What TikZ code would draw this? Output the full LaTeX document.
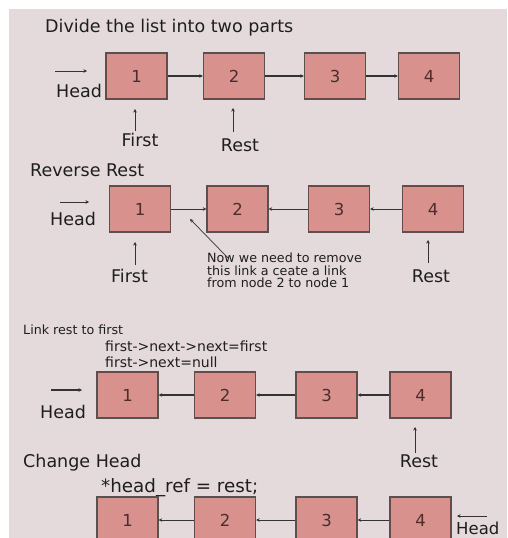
\documentclass[tikz,border=0pt]{standalone}
\usepackage{fontspec}
\setmainfont{DejaVu Sans}
\usetikzlibrary{arrows.meta}
\definecolor{bgc}{HTML}{E4DADB}
\definecolor{boxfill}{HTML}{D8918D}
\definecolor{boxline}{HTML}{5E4E4E}
\definecolor{numc}{HTML}{4A2E2E}
\definecolor{txt}{HTML}{1E1E1E}
\definecolor{lnk}{HTML}{333333}
\tikzset{
  cell/.style={draw=boxline, line width=1.3pt, fill=boxfill, minimum width=61pt, minimum height=46pt, inner sep=0pt, text=numc, font=\fontsize{16.5}{16.5}\selectfont},
  lbl/.style={anchor=base west, inner sep=0pt, text=txt, font=\fontsize{17.5}{17.5}\selectfont},
  lblc/.style={anchor=base, inner sep=0pt, text=txt, font=\fontsize{17.5}{17.5}\selectfont},
  small/.style={anchor=base west, inner sep=0pt, text=txt, font=\fontsize{12.7}{12.7}\selectfont},
  code/.style={anchor=base west, inner sep=0pt, text=txt, font=\fontsize{14}{14}\selectfont},
  bigcode/.style={anchor=base west, inner sep=0pt, text=txt, font=\fontsize{18.3}{18.3}\selectfont},
  lnkarr/.style={draw=lnk, line width=1.1pt, -{Stealth[length=3.5pt,width=3.5pt]}},
  thin/.style={draw=lnk, line width=0.7pt, -{Stealth[length=3.5pt,width=3.5pt]}}
}
\begin{document}
\begin{tikzpicture}[x=1pt,y=-1pt]
\useasboundingbox (0,0) rectangle (507,538);
\clip (0,0) rectangle (507,538);
\fill[white] (0,0) rectangle (507,538);
\fill[bgc] (9,9) rectangle (507,538);

% ---------- Row 1
\node[lbl] (t1) at (45,32) {Divide the list into two parts};
\node[cell] (a1) at (136.5,76) {1};
\node[cell] (a2) at (234,76) {2};
\node[cell] (a3) at (335,76) {3};
\node[cell] (a4) at (429,76) {4};
\draw[lnkarr] (a1) -- (a2);
\draw[lnkarr] (a2) -- (a3);
\draw[lnkarr] (a3) -- (a4);
\coordinate (ah0) at (55,71);
\coordinate (ah1) at (87,71);
\draw[thin] (ah0) -- (ah1);
\node[lbl] (ahead) at (56,97) {Head};
\coordinate (af0) at (135,131);
\coordinate (af1) at (135,109);
\draw[thin] (af0) -- (af1);
\node[lblc] (afirst) at (140,146) {First};
\coordinate (ar0) at (233,132);
\coordinate (ar1) at (233,108);
\draw[thin] (ar0) -- (ar1);
\node[lblc] (arest) at (240,151) {Rest};

% ---------- Row 2
\node[lbl] (t2) at (30,176) {Reverse Rest};
\node[cell] (b1) at (140,209) {1};
\node[cell] (b2) at (237.5,209) {2};
\node[cell] (b3) at (339,209) {3};
\node[cell] (b4) at (433,209) {4};
\draw[thin] (b1) -- (b2);
\draw[thin] (b3) -- (b2);
\draw[thin] (b4) -- (b3);
\coordinate (bh0) at (60,202);
\coordinate (bh1) at (89,202);
\draw[thin] (bh0) -- (bh1);
\node[lbl] (bhead) at (50,225) {Head};
\coordinate (bf0) at (135,265);
\coordinate (bf1) at (135,242);
\draw[thin] (bf0) -- (bf1);
\node[lblc] (bfirst) at (129.5,282) {First};
\coordinate (br0) at (428,263);
\coordinate (br1) at (428,240);
\draw[thin] (br0) -- (br1);
\node[lblc] (brest) at (431,282) {Rest};
\node[small] (n1) at (207,262) {Now we need to remove};
\node[small] (n2) at (207,275) {this link a ceate a link};
\node[small] (n3) at (207,287.5) {from node 2 to node 1};
\coordinate (bd0) at (229,259);
\coordinate (bd1) at (190,219);
\draw[thin] (bd0) -- (bd1);

% ---------- Row 3
\node[small] (t3) at (23,334) {Link rest to first};
\node[code] (c1) at (105,351) {first->next->next=first};
\node[code] (c2) at (105,367) {first->next=null};
\node[cell] (d1) at (127.5,395) {1};
\node[cell] (d2) at (225,395) {2};
\node[cell] (d3) at (326.5,395) {3};
\node[cell] (d4) at (420.5,395) {4};
\draw[lnkarr] (d2) -- (d1);
\draw[lnkarr] (d3) -- (d2);
\draw[lnkarr] (d4) -- (d3);
\coordinate (dh0) at (51,390);
\coordinate (dh1) at (82,390);
\draw[lnkarr] (dh0) -- (dh1);
\node[lbl] (dhead) at (40,418) {Head};
\coordinate (dr0) at (415,453);
\coordinate (dr1) at (415,427);
\draw[thin] (dr0) -- (dr1);
\node[lblc] (drest) at (419,467) {Rest};
\node[lbl] (t4) at (23,467) {Change Head};

% ---------- Row 4
\node[bigcode] (c3) at (101,492) {*head\_ref = rest;};
\node[cell] (e1) at (127.5,520) {1};
\node[cell] (e2) at (225,520) {2};
\node[cell] (e3) at (326.5,520) {3};
\node[cell] (e4) at (420.5,520) {4};
\draw[thin] (e2) -- (e1);
\draw[thin] (e3) -- (e2);
\draw[thin] (e4) -- (e3);
\coordinate (eh0) at (487,516);
\coordinate (eh1) at (457,516);
\draw[thin] (eh0) -- (eh1);
\node[lbl, font=\fontsize{16.5}{16.5}\selectfont] (ehead) at (456,534) {Head};
\end{tikzpicture}
\end{document}
